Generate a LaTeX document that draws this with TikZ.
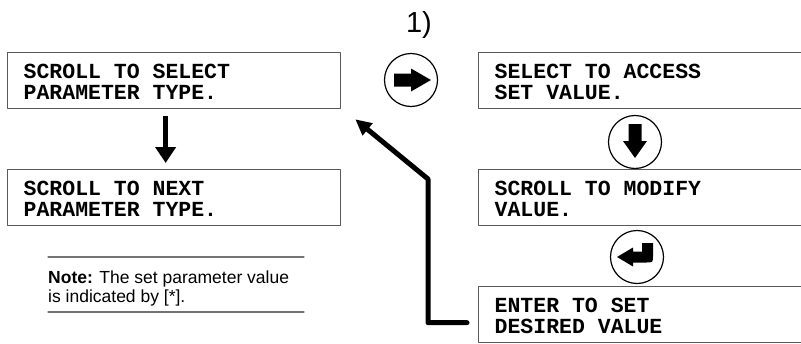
\documentclass[tikz,border=0pt]{standalone}
\usepackage{fontspec}
\setmainfont{Liberation Sans}
\setmonofont{Liberation Mono}
\usetikzlibrary{arrows.meta,positioning}
\newcommand{\lcd}[2]{\spaceskip=0.6em\relax\rule{0pt}{17pt}#1\\#2}

\begin{document}
\begin{tikzpicture}[line cap=round,line join=round,x=1pt,y=-1pt,
  lcdbox/.style={draw=black!65,line width=1.3pt,minimum height=56pt,inner xsep=16pt,inner ysep=0pt,
    align=left,anchor=north west,font=\ttfamily\bfseries\fontsize{21.5}{21}\selectfont},
  icon/.style={circle,draw,line width=1.2pt,minimum size=53pt,inner sep=0pt},
  noteline/.style={draw=black!55,line width=1.3pt}]
\useasboundingbox (0,0) rectangle (801,343);
\clip (0,0) rectangle (801,343);

% left column
\node[lcdbox,text width=301pt] (scroll) at (7,52) {\lcd{SCROLL TO SELECT}{PARAMETER TYPE.}};
\node[lcdbox,text width=301pt] (next) at (7,169) {\lcd{SCROLL TO NEXT}{PARAMETER TYPE.}};
\draw[line width=5pt,line cap=butt,-{Triangle[width=20pt,length=16pt]}]
  ([xshift=-8.5pt,yshift=-7pt]scroll.south) -- ([xshift=-8.5pt,yshift=6pt]next.north);

% note
\node[font=\fontsize{17.5}{19}\selectfont,align=left,anchor=north west,inner sep=0pt] (note) at (48,270.5)
  {\textbf{Note:} The set parameter value\\is indicated by [*].};
\draw[noteline] (48,257) -- (304,257);
\draw[noteline] (48,312) -- (304,312);

% right column
\node[font=\fontsize{29}{29}\selectfont,anchor=base] (num) at (419,32) {1)};
\node[lcdbox,text width=330pt] (access) at (478,52) {\lcd{SELECT TO ACCESS}{SET VALUE.}};
\node[lcdbox,text width=330pt] (modify) at (478,169) {\lcd{SCROLL TO MODIFY}{VALUE.}};
\node[lcdbox,text width=330pt] (desired) at (478,286) {\lcd{ENTER TO SET}{DESIRED VALUE}};

% keys
\node[icon] (go) at (411,80) {};
\node[icon] (down) at (635,142) {};
\node[icon] (enter) at (637,257) {};
\fill[shift={(go)}] (-17,-6.5) rectangle (0,6.5) (0,-11.5) -- (20,0) -- (0,11.5) -- cycle;
\fill[shift={(down)}] (-6.5,-18) rectangle (6.5,-1) (-12,-1) -- (0,16) -- (12,-1) -- cycle;
\fill[shift={(enter)}] (-20,0) -- (-4,-9.5) -- (-4,-5.5) -- (5,-5.5) -- (5,-14) -- (16,-14) -- (16,-1.5)
  .. controls (16,5.5) and (16,5.5) .. (9,5.5) -- (-4,5.5) -- (-4,9.5) -- cycle;

% back to the start
\coordinate (retstart) at ([xshift=-11pt,yshift=-8pt]desired.west);
\coordinate (retbend) at (428,179);
\draw[line width=5pt,-{Triangle[width=15pt,length=16pt]}]
  (retstart) -| (retbend) -- ([xshift=14pt,yshift=-10pt]scroll.south east);
\end{tikzpicture}
\end{document}
